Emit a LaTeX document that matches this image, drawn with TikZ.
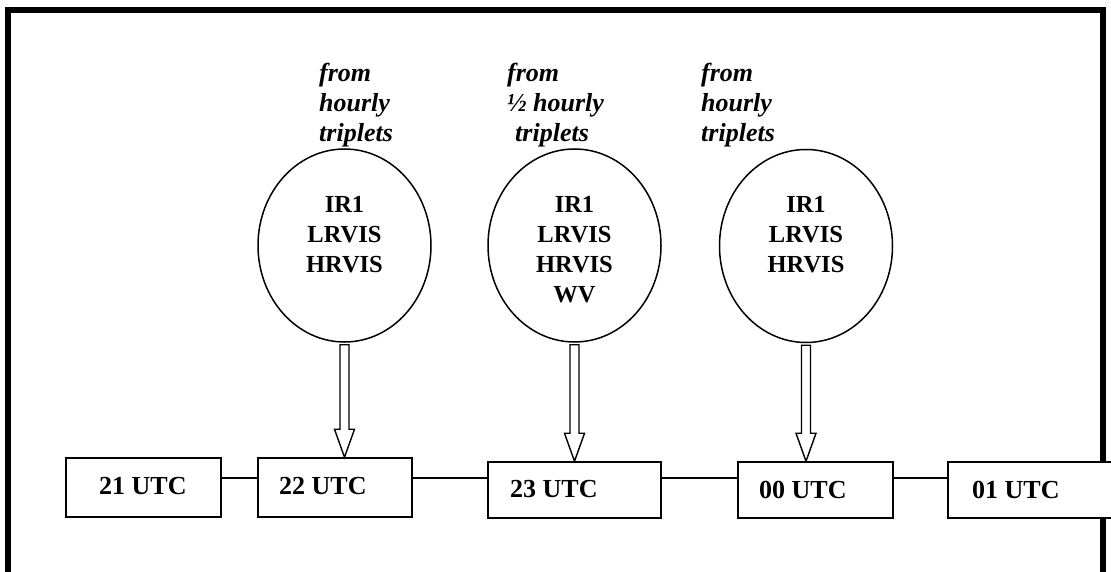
\documentclass[tikz,border=0pt]{standalone}
\usepackage{fontspec}
\setmainfont{Liberation Serif}
\usetikzlibrary{shapes.geometric,calc}
\newcommand\feedarrow[2]{%
  \draw[feed] ($(#1.south)+(-4.5,2)$) -- ($(#1.south |- #2.north)+(-4.5,-28)$) -- ++(-5.5,0)
    -- (#1.south |- #2.north) -- ++(10,-28) -- ++(-5.5,0) -- ($(#1.south)+(4.5,2)$) -- cycle;}
\begin{document}
\begin{tikzpicture}[x=1pt,y=-1pt,
  frame/.style={line width=6pt},
  bubble/.style={ellipse,draw,line width=1.5pt,minimum width=173pt,minimum height=193pt,inner sep=0pt},
  slot/.style={draw,fill=white,line width=1.5pt,inner sep=0pt},
  slotlbl/.style={anchor=base west,inner sep=0pt,font=\fontsize{26}{30}\selectfont\bfseries},
  chan/.style={anchor=base,inner sep=0pt,font=\fontsize{24.5}{30}\selectfont\bfseries},
  src/.style={anchor=base west,inner sep=0pt,font=\fontsize{26}{30}\selectfont\bfseries\itshape},
  link/.style={line width=1.5pt},
  feed/.style={line width=1.4pt,line join=miter}]
\useasboundingbox (0,0) rectangle (1111,572);
\fill[white] (0,0) rectangle (1111,572);
\draw[frame] (8,572) -- (8,10) -- (1103,10) -- (1103,572);

% source captions
\node[src] (s1) at (319,82) {\begin{tabular}[t]{@{}l@{}}from\\hourly\\triplets\end{tabular}};
\node[src] (s2) at (507,82) {\begin{tabular}[t]{@{}l@{}}from\\½ hourly\\\hspace{8pt}triplets\end{tabular}};
\node[src] (s3) at (701,82) {\begin{tabular}[t]{@{}l@{}}from\\hourly\\triplets\end{tabular}};

% circles
\node[bubble] (c1) at (344.5,245.5) {};
\node[bubble] (c2) at (574.5,245.5) {};
\node[bubble] (c3) at (806,246) {};
\node[chan] (ch1) at (344.5,212.5) {\begin{tabular}[t]{@{}c@{}}IR1\\LRVIS\\HRVIS\end{tabular}};
\node[chan] (ch2) at (574.5,212.5) {\begin{tabular}[t]{@{}c@{}}IR1\\LRVIS\\HRVIS\\WV\end{tabular}};
\node[chan] (ch3) at (806,212.5) {\begin{tabular}[t]{@{}c@{}}IR1\\LRVIS\\HRVIS\end{tabular}};

% time boxes
\coordinate (rail) at (0,478);
\node[slot,minimum width=155pt,minimum height=59pt] (b21) at (143.5,487.5) {};
\node[slot,minimum width=154pt,minimum height=59pt] (b22) at (335,487.5) {};
\node[slot,minimum width=173pt,minimum height=56pt] (b23) at (574.5,490) {};
\node[slot,minimum width=155pt,minimum height=56pt] (b00) at (815.5,490) {};
\node[slot,minimum width=190pt,minimum height=56pt] (b01) at (1043,490) {};
\node[slotlbl] (t21) at (99,494) {21 UTC};
\node[slotlbl] (t22) at (279,494) {22 UTC};
\node[slotlbl] (t23) at (510,497.5) {23 UTC};
\node[slotlbl] (t00) at (759,498) {00 UTC};
\node[slotlbl] (t01) at (972,498) {01 UTC};

\draw[link] (b21.east |- rail) -- (b22.west |- rail);
\draw[link] (b22.east |- rail) -- (b23.west |- rail);
\draw[link] (b23.east |- rail) -- (b00.west |- rail);
\draw[link] (b00.east |- rail) -- (b01.west |- rail);

% feed arrows
\feedarrow{c1}{b22}
\feedarrow{c2}{b23}
\feedarrow{c3}{b00}
\end{tikzpicture}
\end{document}
